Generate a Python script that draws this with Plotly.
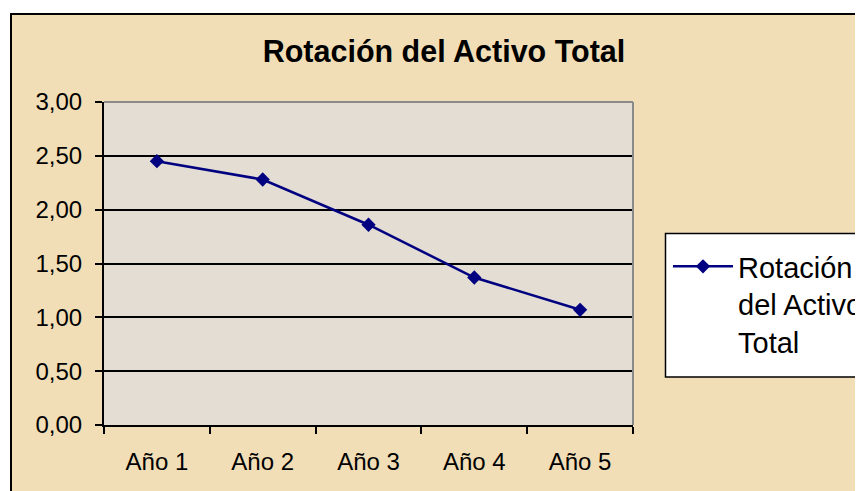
import plotly.graph_objects as go

categories = ["Año 1", "Año 2", "Año 3", "Año 4", "Año 5"]
rotacion = [2.45, 2.28, 1.86, 1.37, 1.07]
series_name = "Rotación<br>del Activo<br>Total"
title_text = "Rotación del Activo Total"
y_ticks = [0, 0.5, 1.0, 1.5, 2.0, 2.5, 3.0]

W, H = 863, 491
OFF = 8  # page body margin
L, R, T, B = 104 - OFF, 633 - OFF, 102 - OFF, 425 - OFF   # plot area in figure px
pw, ph = R - L, B - T

def px_x(x):  # page px -> paper
    return (x - OFF - L) / pw

def px_y(y):
    return (B - (y - OFF)) / ph

FONT = "Liberation Sans, Arial, sans-serif"

fig = go.Figure()
fig.add_trace(go.Scatter(
    x=categories, y=rotacion, mode="lines+markers", name=series_name,
    line=dict(color="#000080", width=2.5),
    marker=dict(symbol="diamond", size=11, color="#000080"),
))

shapes = [
    # chart area (parchment) with black border
    dict(type="rect", xref="paper", yref="paper", layer="below",
         x0=px_x(11), x1=px_x(900), y0=px_y(520), y1=px_y(14),
         fillcolor="#F1DEB6", line=dict(color="black", width=2)),
    # plot area
    dict(type="rect", xref="paper", yref="paper", layer="below",
         x0=0, x1=1, y0=0, y1=1, fillcolor="#E3DDD3", line=dict(width=0)),
    # plot area border top/right (grey)
    dict(type="line", xref="paper", yref="paper", layer="above",
         x0=0, x1=1, y0=1, y1=1, line=dict(color="#8A8A8A", width=2)),
    dict(type="line", xref="paper", yref="paper", layer="above",
         x0=1, x1=1, y0=0, y1=1, line=dict(color="#8A8A8A", width=2)),
    # legend box
    dict(type="rect", xref="paper", yref="paper", layer="above",
         x0=px_x(665.5), x1=px_x(900), y0=px_y(377), y1=px_y(233.5),
         fillcolor="white", line=dict(color="black", width=1.5)),
]

fig.update_layout(
    width=W, height=H,
    margin=dict(l=L, r=W - R, t=T, b=H - B, autoexpand=False),
    paper_bgcolor="white",
    plot_bgcolor="rgba(0,0,0,0)",
    separators=",.",
    font=dict(family=FONT, size=24, color="black"),
    title=dict(text="<b>" + title_text + "</b>", x=(444 - OFF) / W, xanchor="center",
               xref="container", y=1 - (51 - OFF) / H, yanchor="middle", yref="container",
               font=dict(family=FONT, size=30.5, color="black")),
    showlegend=True,
    legend=dict(x=px_x(668), xanchor="left", y=px_y(241), yanchor="top",
                bgcolor="rgba(0,0,0,0)", borderwidth=0, valign="top",
                font=dict(family=FONT, size=29, color="black"),
                itemwidth=60),
    shapes=shapes,
    xaxis=dict(type="category", range=[-0.5, 4.5], tickson="boundaries",
               ticks="outside", ticklen=7, tickwidth=2, tickcolor="black",
               showline=True, linecolor="black", linewidth=2,
               showgrid=False, zeroline=False, ticklabelstandoff=14,
               fixedrange=True),
    yaxis=dict(range=[0, 3], tickvals=y_ticks, tickformat=".2f",
               ticks="outside", ticklen=7, tickwidth=2, tickcolor="black",
               showline=True, linecolor="black", linewidth=2,
               showgrid=True, gridcolor="black", gridwidth=2,
               zeroline=False, ticklabelstandoff=8, fixedrange=True),
)

fig.write_html("out.html")
